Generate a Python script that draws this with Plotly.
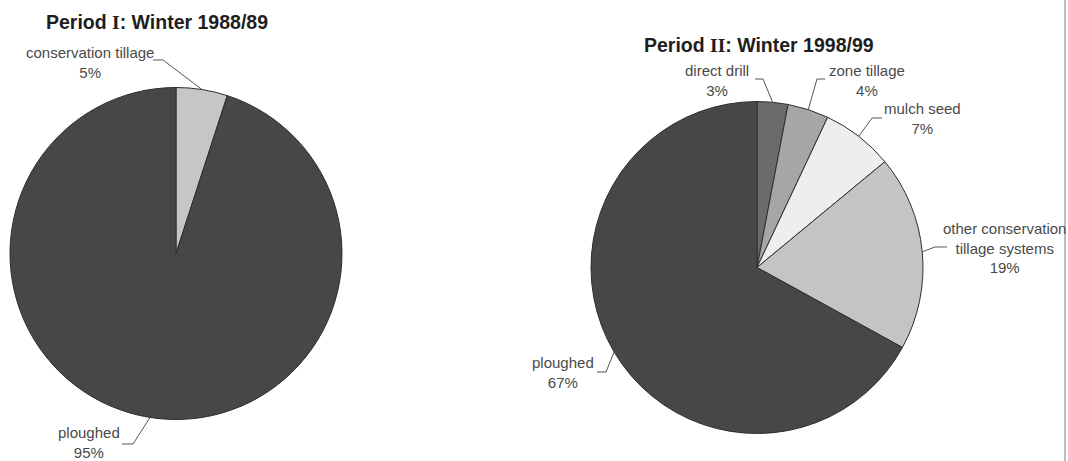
import math
import plotly.graph_objects as go

# ---- data -------------------------------------------------------------
labels_8889 = ["conservation tillage", "ploughed"]
values_8889 = [5, 95]

labels_9899 = ["direct drill", "zone tillage", "mulch seed",
               "other conservation tillage systems", "ploughed"]
values_9899 = [3, 4, 7, 19, 67]

# ---- styling ------------------------------------------------------------
W, H = 1068, 461
colors_8889 = ["#c6c6c6", "#474747"]
colors_9899 = ["#6b6b6b", "#a6a6a6", "#eeeeee", "#c4c4c4", "#474747"]
edge_col = "#2e2e2e"
text_col = "#4a4a4a"
font_fam = "Liberation Sans, Arial, sans-serif"

# pie geometry (pixels from top-left)
pie_left = dict(cx=176, cy=253.5, r=166)
pie_right = dict(cx=757, cy=267.5, r=166)


def fx(px):
    return px / W


def fy(py):
    return 1 - py / H


def domain(p):
    return dict(x=[fx(p["cx"] - p["r"]), fx(p["cx"] + p["r"])],
                y=[fy(p["cy"] + p["r"]), fy(p["cy"] - p["r"])])


def mid_points(p, values):
    """Point on the rim at the middle of each slice (clockwise from 12 o'clock)."""
    total = sum(values)
    pts, acc = [], 0.0
    for v in values:
        a = math.radians((acc + v / 2) / total * 360)
        pts.append((p["cx"] + p["r"] * math.sin(a), p["cy"] - p["r"] * math.cos(a)))
        acc += v
    return pts


fig = go.Figure()
for p, lab, val, col in [(pie_left, labels_8889, values_8889, colors_8889),
                         (pie_right, labels_9899, values_9899, colors_9899)]:
    fig.add_trace(go.Pie(
        labels=lab, values=val, sort=False, direction="clockwise", rotation=0,
        domain=domain(p), textinfo="none", hoverinfo="label+percent",
        marker=dict(colors=col, line=dict(color=edge_col, width=1)),
        showlegend=False,
    ))

# label text, label block centre, and leader start/elbow per slice
label_specs_8889 = [
    ("conservation tillage<br>5%", (90, 62), [(153, 60), (163, 60)]),
    ("ploughed<br>95%", (89, 442), [(122, 444), (133, 444)]),
]
label_specs_9899 = [
    ("direct drill<br>3%", (717, 80), [(755, 79), (763, 79)]),
    ("zone tillage<br>4%", (867, 80), [(825, 79), (817, 79)]),
    ("mulch seed<br>7%", (922, 118), [(882, 118), (872, 118)]),
    ("other conservation<br>tillage systems<br>19%", (1004, 247.5), [(947, 247), (935, 247)]),
    ("ploughed<br>67%", (563, 372), [(597, 372), (606, 372)]),
]

shapes, annotations = [], []
for p, vals, specs in [(pie_left, values_8889, label_specs_8889),
                       (pie_right, values_9899, label_specs_9899)]:
    for (txt, (lx, ly), leader), (ex, ey) in zip(specs, mid_points(p, vals)):
        pts = leader + [(ex, ey)]
        path = "M " + " L ".join(f"{fx(x):.5f},{fy(y):.5f}" for x, y in pts)
        shapes.append(dict(type="path", path=path, xref="paper", yref="paper",
                           line=dict(color="#555555", width=1)))
        annotations.append(dict(text=txt, x=fx(lx), y=fy(ly), xref="paper", yref="paper",
                                xanchor="center", yanchor="middle", align="center",
                                showarrow=False,
                                font=dict(family=font_fam, size=15, color=text_col)))

# titles
roman = "<span style='font-family:Liberation Serif, Times New Roman, serif'>{}</span>"
titles = [("Period " + roman.format("I") + ": Winter 1988/89", (157, 22)),
          ("Period " + roman.format("II") + ": Winter 1998/99", (759, 45))]
for txt, (tx, ty) in titles:
    annotations.append(dict(text="<b>" + txt + "</b>", x=fx(tx), y=fy(ty),
                            xref="paper", yref="paper", xanchor="center", yanchor="middle",
                            showarrow=False,
                            font=dict(family=font_fam, size=19.5, color="#1e1e1e")))

# frame line on the right
shapes.append(dict(type="line", xref="paper", yref="paper",
                   x0=fx(1065), x1=fx(1065), y0=0, y1=1,
                   line=dict(color="#bdbdbd", width=2)))

fig.update_layout(
    width=W, height=H, margin=dict(l=0, r=0, t=0, b=0),
    paper_bgcolor="white", plot_bgcolor="white",
    shapes=shapes, annotations=annotations,
)

fig.write_html("out.html", config={"displayModeBar": False})
